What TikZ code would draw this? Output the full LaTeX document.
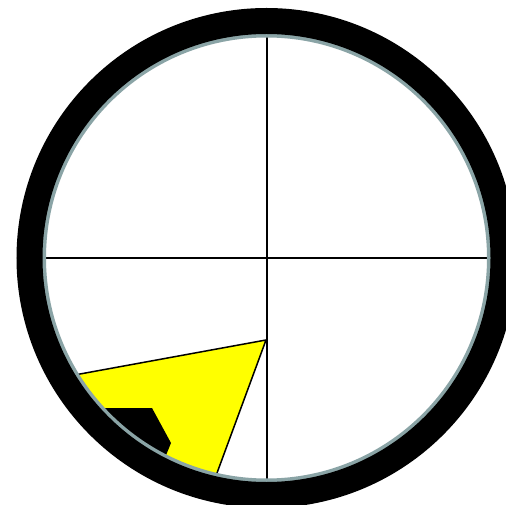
\documentclass[tikz,border=0pt]{standalone}
\definecolor{wedgeyellow}{RGB}{255,255,0}
\definecolor{greyring}{RGB}{138,164,166}
\begin{document}
\begin{tikzpicture}[x=1pt,y=-1pt,
  ringgrey/.style={draw=greyring, line width=4.2pt},
  ringblack/.style={draw=black, line width=26pt},
  hair/.style={draw=black, line width=1.5pt},
  wedge/.style={fill=wedgeyellow, draw=black, line width=1.5pt, line join=miter}]
\useasboundingbox (0,0) rectangle (506,505);
\coordinate (c) at (266.5,258);
\begin{scope}
  \clip (c) circle[radius=223];
  \fill[white] (c) circle[radius=223];
  \draw[wedge] (266,340) -- (-13,391) -- (192.5,539.5) -- cycle;
  \fill[black] (80,408) -- (152,408) -- (171,443) -- (160,470) -- (80,470) -- cycle;
  \draw[hair] (266.8,30) -- (266.8,486);
  \draw[hair] (40,258) -- (493,258);
\end{scope}
\draw[ringgrey] (c) circle[radius=222.6];
\draw[ringblack] (c) circle[radius=237];
\end{tikzpicture}
\end{document}
